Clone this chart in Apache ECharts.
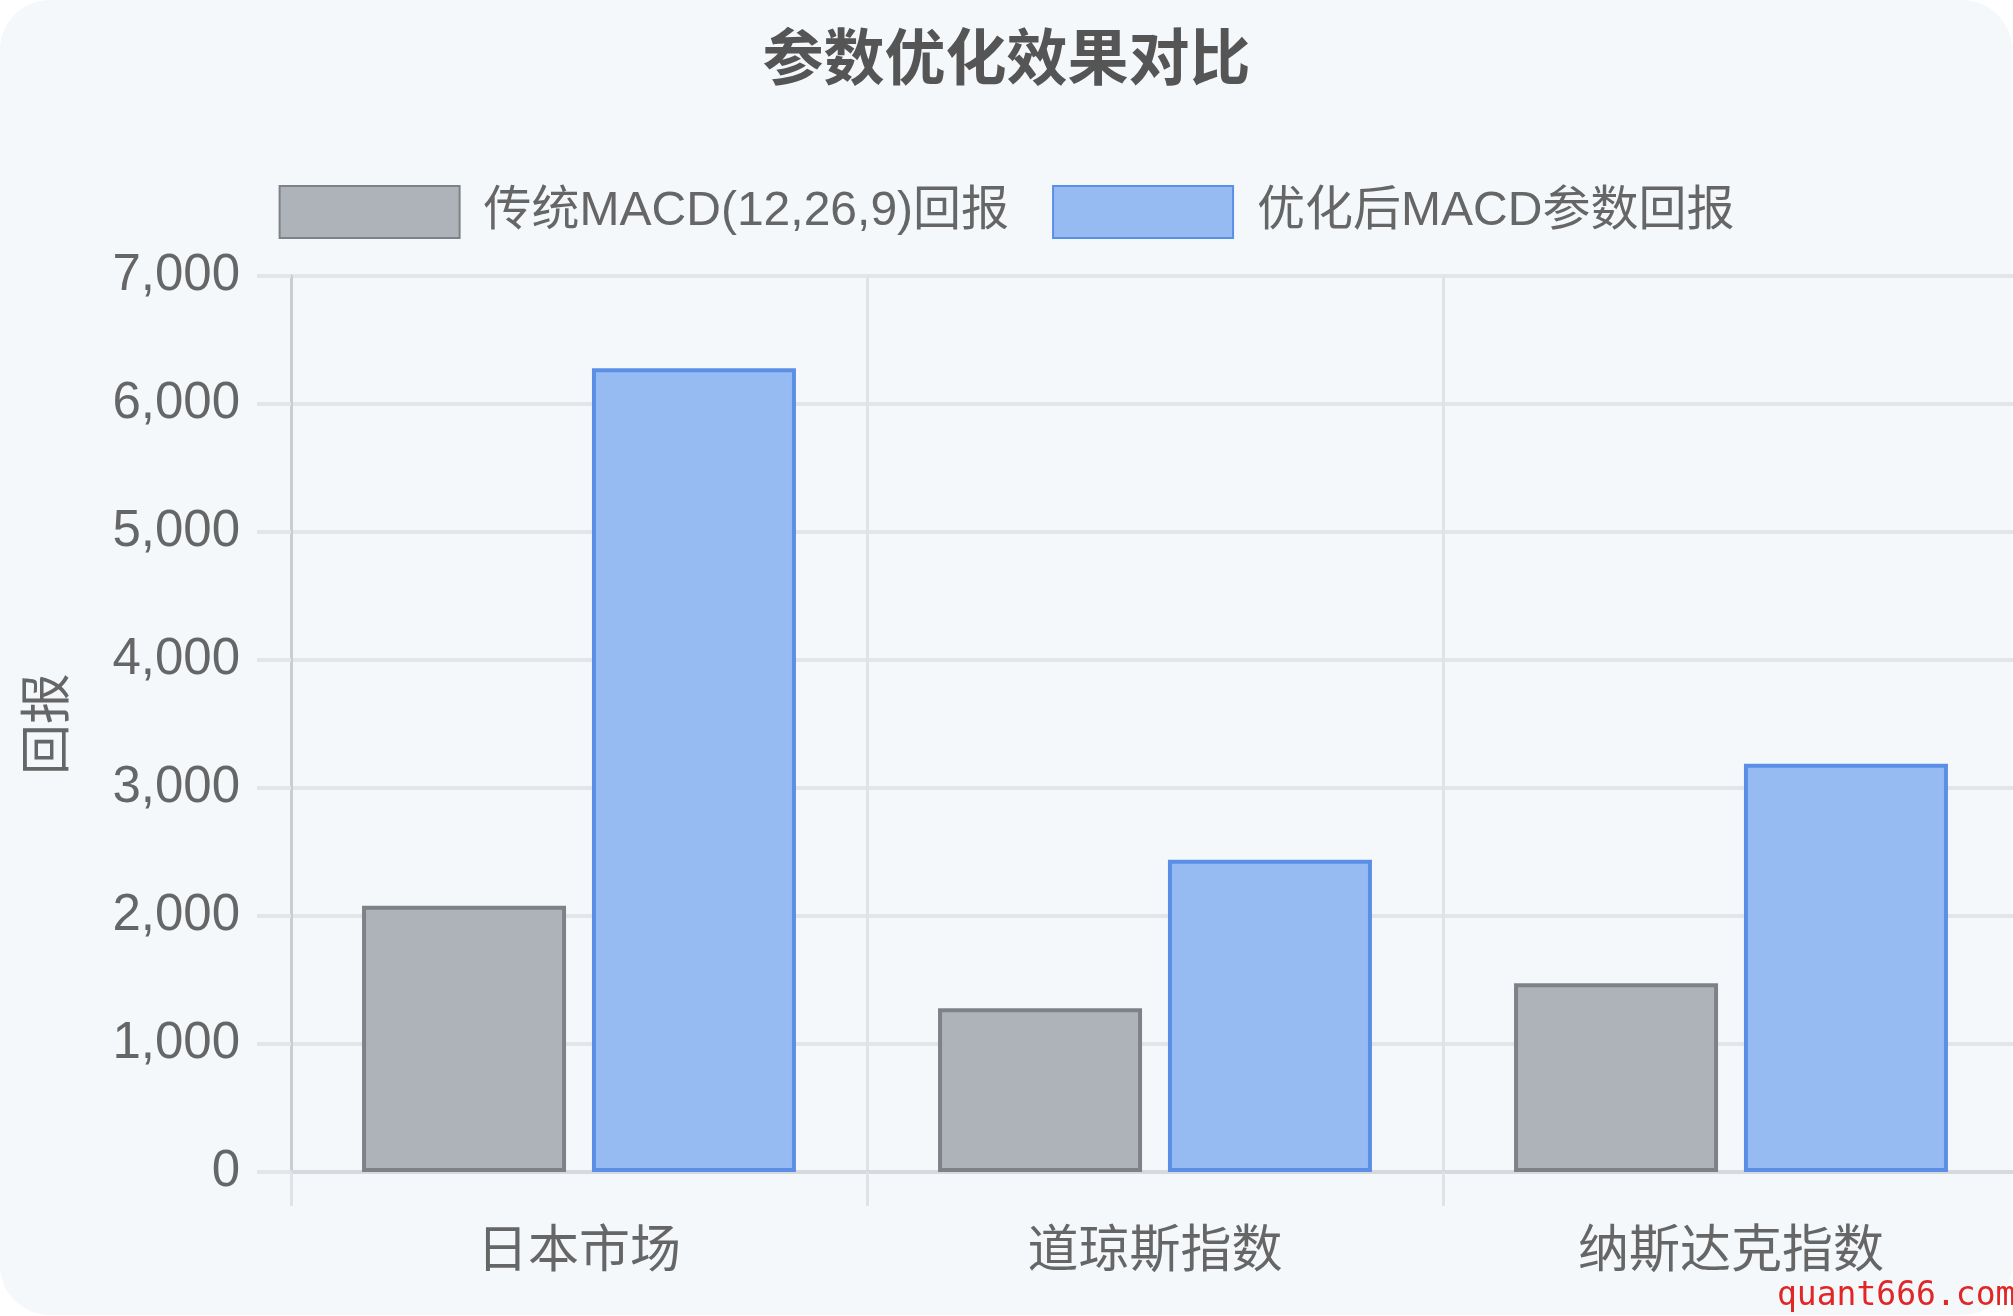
<!DOCTYPE html>
<html>
<head>
<meta charset="utf-8">
<script src="https://cdn.jsdelivr.net/npm/echarts@6/dist/echarts.min.js"></script>
<style>
  html, body { margin: 0; padding: 0; background: #ffffff; }
  #chart { width: 2013px; height: 1316px; }
</style>
</head>
<body>
<div id="chart"></div>
<script>
// ---- data ----
const categories = ['日本市场', '道琼斯指数', '纳斯达克指数'];
const seriesNames = ['传统MACD(12,26,9)回报', '优化后MACD参数回报'];
const traditionalReturns = [2080, 1280, 1475];
const optimizedReturns = [6280, 2440, 3190];
const yAxisMin = 0;
const yAxisMax = 7000;
const yAxisStep = 1000;
const titleText = '参数优化效果对比';
const yAxisTitle = '回报';
const watermarkText = 'quant666.com';

// ---- chart ----
const FONT = "'Liberation Sans', 'Noto Sans CJK SC', sans-serif";
const chart = echarts.init(document.getElementById('chart'), null, { renderer: 'canvas' });

const option = {
  animation: false,
  backgroundColor: '#ffffff',
  graphic: [
    {
      type: 'rect',
      z: -10,
      silent: true,
      shape: { x: 0, y: 0, width: 2012, height: 1315, r: 50 },
      style: { fill: '#f4f8fb' }
    },
    {
      type: 'text',
      z: 100,
      silent: true,
      x: 1777,
      y: 1296,
      style: {
        text: watermarkText,
        fill: '#e02626',
        font: '33px "DejaVu Sans Mono", monospace',
        verticalAlign: 'middle',
        align: 'left'
      }
    }
  ],
  title: {
    text: titleText,
    left: 'center',
    top: 28,
    textStyle: {
      fontSize: 61,
      fontWeight: 'bold',
      color: '#555555',
      fontFamily: FONT,
      lineHeight: 60
    }
  },
  legend: {
    top: 180,
    left: 'center',
    icon: 'rect',
    itemWidth: 180,
    itemHeight: 52,
    itemGap: 43,
    data: seriesNames,
    textStyle: {
      fontSize: 48,
      color: '#666666',
      fontFamily: FONT,
      lineHeight: 52,
      padding: [0, 0, 0, 19]
    }
  },
  grid: {
    left: 291,
    right: -6,
    top: 276,
    bottom: 144,
    containLabel: false,
    outerBoundsMode: 'none'
  },
  xAxis: {
    type: 'category',
    data: categories,
    boundaryGap: true,
    axisLine: { show: true, lineStyle: { color: '#d6d9dd', width: 4 } },
    axisTick: { show: true, length: 34, lineStyle: { color: '#e0e2e5', width: 3 } },
    axisLabel: { fontSize: 51, color: '#666666', margin: 55, fontFamily: FONT },
    splitLine: { show: true, lineStyle: { color: '#e0e2e5', width: 3 } }
  },
  yAxis: {
    type: 'value',
    min: yAxisMin,
    max: yAxisMax,
    interval: yAxisStep,
    name: yAxisTitle,
    nameLocation: 'middle',
    nameGap: 216,
    nameTextStyle: { fontSize: 51, color: '#666666', fontFamily: FONT },
    axisLine: { show: true, lineStyle: { color: '#c9cdd1', width: 3 } },
    axisTick: { show: true, length: 34, lineStyle: { color: '#e3e6e9', width: 4 } },
    axisLabel: {
      fontSize: 51,
      color: '#666666',
      margin: 51,
      fontFamily: FONT,
      formatter: function (v) { return v.toLocaleString('en-US'); }
    },
    splitLine: { show: true, lineStyle: { color: '#e3e6e9', width: 4 } }
  },
  series: [
    {
      type: 'bar',
      name: seriesNames[0],
      data: traditionalReturns,
      barWidth: 204,
      barGap: '12.7%',
      itemStyle: { color: '#aeb3ba', borderColor: '#7e8286', borderWidth: 4 }
    },
    {
      type: 'bar',
      name: seriesNames[1],
      data: optimizedReturns,
      barWidth: 204,
      barGap: '12.7%',
      itemStyle: { color: '#96bbf3', borderColor: '#5b8fe6', borderWidth: 4 }
    }
  ]
};

chart.setOption(option);
</script>
</body>
</html>
